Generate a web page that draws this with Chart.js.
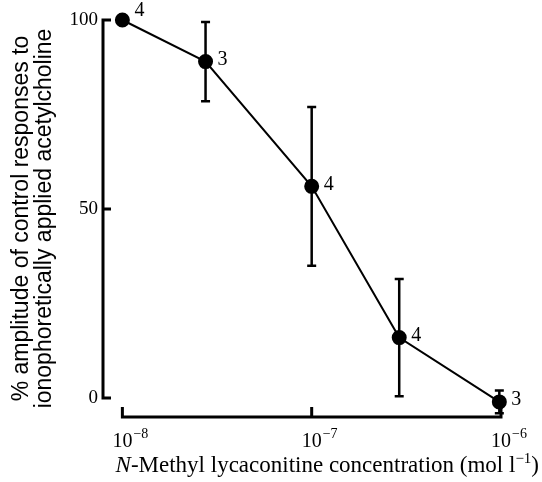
<!DOCTYPE html>
<html>
<head>
<meta charset="utf-8">
<script src="https://cdn.jsdelivr.net/npm/chart.js@4"></script>
<style>
html, body { margin: 0; padding: 0; background: #fff; }
#wrap { width: 542px; height: 482px; }
</style>
</head>
<body>
<div id="wrap"><canvas id="doseChart"></canvas></div>
<script>
// values
var concentrations = [1e-8, 2.75e-8, 1e-7, 2.9e-7, 9.8e-7]; // mol l-1
var amplitudes = [100, 89, 56, 16, -1]; // % of control
var errors = [0, 10.5, 21, 15.5, 3]; // s.e.m.
var nCells = [4, 3, 4, 4, 3];
var xTickValues = [1e-8, 1e-7, 1e-6];
var xTickExponents = ['\u22128', '\u22127', '\u22126'];
var yTickValues = [0, 50, 100];

var serif = '"Liberation Serif", "DejaVu Serif", serif';
var sans = '"Liberation Sans", Arial, sans-serif';

// error bars, axis lines, tick labels and n labels, all placed through the scales
var extras = {
	id: 'extras',
	beforeDatasetsDraw: function (chart) {
		var c = chart.ctx, xs = chart.scales.x, ys = chart.scales.y;
		c.save();
		c.strokeStyle = '#000';
		c.lineWidth = 2.5;
		concentrations.forEach(function (v, i) {
			if (!errors[i]) return;
			var px = xs.getPixelForValue(v);
			var top = ys.getPixelForValue(amplitudes[i] + errors[i]);
			var bot = ys.getPixelForValue(amplitudes[i] - errors[i]);
			c.beginPath();
			c.moveTo(px, top); c.lineTo(px, bot);
			c.moveTo(px - 4.5, top); c.lineTo(px + 4.5, top);
			c.moveTo(px - 4.5, bot); c.lineTo(px + 4.5, bot);
			c.stroke();
		});
		c.restore();
	},
	afterDraw: function (chart) {
		var c = chart.ctx, xs = chart.scales.x, ys = chart.scales.y;
		var area = chart.chartArea;
		c.save();
		c.strokeStyle = '#000';
		c.lineWidth = 3;

		// y axis: 0..100 only, ticks pointing in
		var ax = area.left;
		var y0 = ys.getPixelForValue(0), y100 = ys.getPixelForValue(100);
		c.beginPath();
		c.moveTo(ax, y0 + 1.5); c.lineTo(ax, y100 - 1.5);
		yTickValues.forEach(function (v) {
			var py = ys.getPixelForValue(v);
			c.moveTo(ax, py); c.lineTo(ax + 8, py);
		});
		c.stroke();

		// x axis: detached, ticks pointing up
		var ay = area.bottom;
		c.beginPath();
		c.moveTo(xs.getPixelForValue(xTickValues[0]) - 1.5, ay);
		c.lineTo(xs.getPixelForValue(xTickValues[xTickValues.length - 1]) + 1.5, ay);
		xTickValues.forEach(function (v) {
			var px = xs.getPixelForValue(v);
			c.moveTo(px, ay); c.lineTo(px, ay - 10);
		});
		c.stroke();

		// x tick labels: 10 centred on the tick, exponent raised
		c.fillStyle = '#000';
		c.textBaseline = 'alphabetic';
		xTickValues.forEach(function (v, i) {
			var px = xs.getPixelForValue(v);
			c.font = '20px ' + serif;
			c.textAlign = 'center';
			c.fillText('10', px, ay + 30);
			var w = c.measureText('10').width;
			c.font = '14px ' + serif;
			c.textAlign = 'left';
			c.fillText(xTickExponents[i], px + w / 2 + 1, ay + 21);
		});

		// n per point
		c.font = '20px ' + serif;
		c.textAlign = 'left';
		c.textBaseline = 'middle';
		concentrations.forEach(function (v, i) {
			var px = xs.getPixelForValue(v);
			var py = ys.getPixelForValue(amplitudes[i]);
			c.fillText(String(nCells[i]), px + 12, i === 0 ? py - 9 : py - 2);
		});

		// x title with italic N and superscript -1
		c.textBaseline = 'alphabetic';
		var parts = [
			{ t: 'N', f: 'italic 23px ' + serif, dy: 0 },
			{ t: '-Methyl lycaconitine concentration (mol l', f: '23px ' + serif, dy: 0 },
			{ t: '\u22121', f: '15px ' + serif, dy: -9 },
			{ t: ')', f: '23px ' + serif, dy: 0 }
		];
		var total = 0;
		parts.forEach(function (p) { c.font = p.f; p.w = c.measureText(p.t).width; total += p.w; });
		var x = chart.width - 3 - total;
		var base = 472;
		parts.forEach(function (p) {
			c.font = p.f;
			c.fillText(p.t, x, base + p.dy);
			x += p.w;
		});
		c.restore();
	}
};

var ctx = document.getElementById('doseChart').getContext('2d');

var doseChart = new Chart(ctx, {
	type: 'line',
	data: {
		datasets: [{
			data: concentrations.map(function (v, i) { return { x: v, y: amplitudes[i] }; }),
			borderColor: '#000',
			backgroundColor: '#000',
			borderWidth: 2,
			pointRadius: 6.5,
			pointHoverRadius: 6.5,
			tension: 0,
			clip: false
		}]
	},
	options: {
		responsive: true,
		maintainAspectRatio: false,
		animation: false,
		layout: { padding: { top: 20, right: 37, left: 10, bottom: 0 } },
		plugins: {
			legend: { display: false },
			tooltip: { enabled: false }
		},
		scales: {
			x: {
				type: 'logarithmic',
				min: 7.9e-9,
				max: 1.05e-6,
				border: { display: false },
				grid: { display: false, drawTicks: false },
				afterBuildTicks: function (scale) {
					scale.ticks = xTickValues.map(function (v) { return { value: v }; });
				},
				afterFit: function (scale) { scale.height = 65; },
				ticks: { display: false }
			},
			y: {
				min: -5,
				max: 100,
				border: { display: false },
				grid: { display: false, drawTicks: false },
				afterBuildTicks: function (scale) {
					scale.ticks = yTickValues.map(function (v) { return { value: v }; });
				},
				afterFit: function (scale) { scale.width = 93; },
				ticks: {
					padding: 5,
					color: '#000',
					font: { size: 19, family: serif }
				},
				title: {
					display: true,
					text: ['% amplitude of control responses to', 'ionophoretically applied acetylcholine'],
					color: '#000',
					font: { size: 23, family: sans, lineHeight: 1.0 },
					padding: { top: 0, bottom: 0 }
				}
			}
		}
	},
	plugins: [extras]
});
</script>
</body>
</html>
